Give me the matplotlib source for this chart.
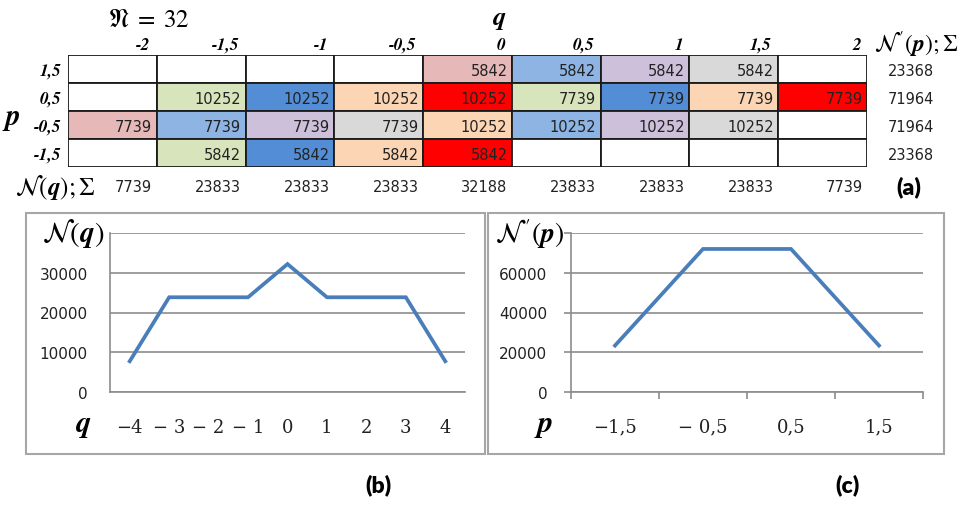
import numpy as np
from matplotlib import pyplot as plt
from matplotlib.patches import Rectangle

plt.rcParams['mathtext.fontset'] = 'stix'

# table (a)
q_labels = ['-2', '-1,5', '-1', '-0,5', '0', '0,5', '1', '1,5', '2']
p_labels = ['1,5', '0,5', '-0,5', '-1,5']
cells = [
    [None, None, None, None, 5842, 5842, 5842, 5842, None],
    [None, 10252, 10252, 10252, 10252, 7739, 7739, 7739, 7739],
    [7739, 7739, 7739, 7739, 10252, 10252, 10252, 10252, None],
    [None, 5842, 5842, 5842, 5842, None, None, None, None],
]
col_sums = [7739, 23833, 23833, 23833, 32188, 23833, 23833, 23833, 7739]
row_sums = [23368, 71964, 71964, 23368]

# charts (b) and (c)
q_vals = ['−4', '− 3', '− 2', '− 1', '0', '1', '2', '3', '4']
n_q = [7739, 23833, 23833, 23833, 32188, 23833, 23833, 23833, 7739]
p_vals = ['−1,5', '− 0,5', '0,5', '1,5']
n_p = [23368, 71964, 71964, 23368]

# cell colours
pal = {'w': 'white', 'pk': '#E6B8B7', 'lb': '#8DB4E2', 'lv': '#CCC0DA', 'gy': '#D9D9D9',
       'gr': '#D8E4BC', 'bl': '#538DD5', 'pe': '#FCD5B4', 'rd': '#FF0000'}
cell_col = [
    ['w', 'w', 'w', 'w', 'pk', 'lb', 'lv', 'gy', 'w'],
    ['w', 'gr', 'bl', 'pe', 'rd', 'gr', 'bl', 'pe', 'rd'],
    ['pk', 'lb', 'lv', 'gy', 'pe', 'lb', 'lv', 'gy', 'w'],
    ['w', 'gr', 'bl', 'pe', 'rd', 'w', 'w', 'w', 'w'],
]

W, H = 976, 506
fig = plt.figure(figsize=(W / 100, H / 100), dpi=100)

def px(x0, y0, x1, y1):
    return [x0 / W, 1 - y1 / H, (x1 - x0) / W, (y1 - y0) / H]

serif_bi = dict(family='STIXGeneral', style='italic', weight='bold')
num_font = dict(family='DejaVu Sans', fontsize=10.5, color='#222222')
lab_font = dict(fontsize=16.5, family='Lato', weight='heavy')

# ---- table
ax = fig.add_axes(px(68, 56, 867, 168))
ax.set_xlim(0, 9)
ax.set_ylim(4, 0)
ax.axis('off')
for i, row in enumerate(cells):
    for j, v in enumerate(row):
        ax.add_patch(Rectangle((j, i), 1, 1, facecolor=pal[cell_col[i][j]],
                               edgecolor='#1a1a1a', lw=1.3))
        if v is not None:
            ax.text(j + 0.95, i + 0.55, str(v), ha='right', va='center', **num_font)
for j, lab in enumerate(q_labels):
    ax.text(j + 0.93, -0.38, lab, ha='right', va='center', fontsize=12.5, **serif_bi, clip_on=False)
    ax.text(j + 0.95, 4.7, str(col_sums[j]), ha='right', va='center', clip_on=False, **num_font)
for i, lab in enumerate(p_labels):
    ax.text(-0.07, i + 0.55, lab, ha='right', va='center', fontsize=12.5, **serif_bi, clip_on=False)
    ax.text(9.23, i + 0.55, str(row_sums[i]), ha='left', va='center', clip_on=False, **num_font)
ax.text(-0.62, 2.2, 'p', ha='center', va='center', fontsize=21, **serif_bi, clip_on=False)
ax.text(4.86, -1.35, 'q', ha='center', va='center', fontsize=19, **serif_bi, clip_on=False)
ax.text(0.45, -1.3, r'$\mathfrak{N}\;=\;32$', ha='left', va='center', fontsize=18, clip_on=False)
ax.text(-0.6, 4.68, r'$\mathcal{N}(\boldsymbol{q});\Sigma$', ha='left', va='center',
        fontsize=18, clip_on=False)
ax.text(9.08, -0.4, r"$\mathcal{N}^{\,\prime}(\boldsymbol{p});\Sigma$", ha='left', va='center',
        fontsize=17, clip_on=False)
ax.text(9.33, 4.7, '(a)', ha='left', va='center', clip_on=False, **lab_font)

# ---- frames of the chart panels
for x0, x1 in [(26, 485), (488, 944)]:
    fig.add_artist(Rectangle((x0 / W, 1 - 455 / H), (x1 - x0) / W, (455 - 214) / H,
                             transform=fig.transFigure, fill=False, edgecolor='#A6A6A6', lw=1.5))

grid_c = '#8C8C8C'

def style(a, ymax, step):
    a.set_ylim(0, ymax)
    ticks = np.arange(0, ymax + 1, step)
    a.set_yticks(ticks)
    a.set_yticklabels([str(int(t)) for t in ticks[:-1]] + [''], family='DejaVu Sans',
                      fontsize=11, color='#222222')
    a.grid(axis='y', color=grid_c, lw=1.2)
    a.set_axisbelow(True)
    for s in ['top', 'right']:
        a.spines[s].set_visible(False)
    for s in ['left', 'bottom']:
        a.spines[s].set_color(grid_c)
        a.spines[s].set_linewidth(1.2)

# ---- (b)
ab = fig.add_axes(px(110, 234, 465, 393))
xb = np.arange(len(n_q))
ab.plot(xb, n_q, color='#4A7EBB', lw=2.7, solid_joinstyle='miter')
ab.set_xlim(-0.5, len(n_q) - 0.5)
style(ab, 40000, 10000)
ab.set_xticks(xb)
ab.set_xticklabels(q_vals, family='DejaVu Serif', fontsize=13, color='#222222')
ab.tick_params(axis='both', length=0)
ab.tick_params(axis='y', pad=16)
ab.tick_params(axis='x', pad=19)
ab.text(-0.052, -0.2, 'q', transform=ab.transAxes, ha='right', va='center', fontsize=22, **serif_bi)
ab.text(-0.015, 1.0, r'$\mathcal{N}(\boldsymbol{q})$', transform=ab.transAxes, ha='right',
        va='center', fontsize=21)
fig.text(378 / W, 1 - 485 / H, '(b)', ha='center', va='center', **lab_font)

# ---- (c)
ac = fig.add_axes(px(571, 234, 923, 393))
xc = np.arange(len(n_p))
ac.plot(xc, n_p, color='#4A7EBB', lw=2.7, solid_joinstyle='miter')
ac.set_xlim(-0.5, len(n_p) - 0.5)
style(ac, 80000, 20000)
ac.set_xticks(xc)
ac.set_xticklabels(p_vals, family='DejaVu Serif', fontsize=13, color='#222222')
ac.set_xticks(np.arange(len(n_p) + 1) - 0.5, minor=True)
ac.tick_params(axis='x', which='major', length=0, pad=18)
ac.tick_params(axis='x', which='minor', length=5, color=grid_c, width=1.2)
ac.tick_params(axis='y', length=5, color=grid_c, width=1.2, pad=12)
ac.text(-0.05, -0.2, 'p', transform=ac.transAxes, ha='right', va='center', fontsize=22, **serif_bi)
ac.text(-0.02, 1.0, r"$\mathcal{N}^{\,\prime}(\boldsymbol{p})$", transform=ac.transAxes, ha='right',
        va='center', fontsize=20)
fig.text(847 / W, 1 - 485 / H, '(c)', ha='center', va='center', **lab_font)

fig.savefig('out.png', dpi=100)
